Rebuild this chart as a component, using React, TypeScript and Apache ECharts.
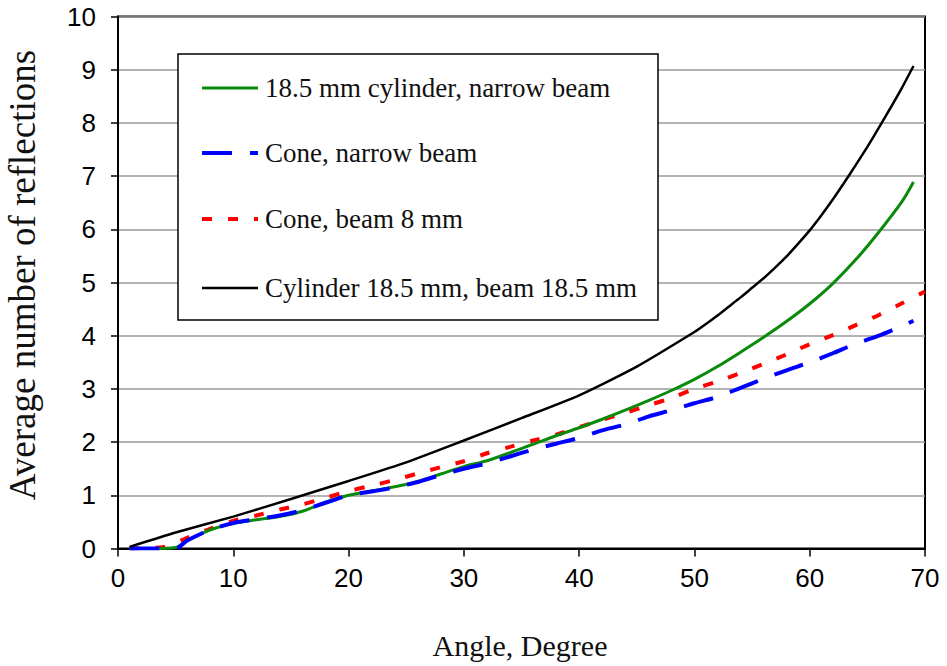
import React, { useEffect, useRef } from "react";
import * as echarts from "echarts";

const xTicks = [0, 10, 20, 30, 40, 50, 60, 70];
const yTicks = [0, 1, 2, 3, 4, 5, 6, 7, 8, 9, 10];

const seriesNames = [
  "18.5 mm cylinder, narrow beam",
  "Cone, narrow beam",
  "Cone, beam 8 mm",
  "Cylinder 18.5 mm, beam 18.5 mm",
];
const seriesColors = ["#0a8a0a", "#0000ff", "#ff0000", "#000000"];

const greenAngles = [1, 3, 5, 6, 8, 10, 12, 14, 16, 18, 20, 22, 24, 26, 28, 30, 32, 34, 36, 38, 40, 42, 44, 46, 48, 50, 52, 54, 56, 58, 60, 62, 64, 66, 68, 69];
const greenValues = [0, 0, 0.02, 0.15, 0.35, 0.47, 0.54, 0.6, 0.7, 0.87, 1.0, 1.08, 1.16, 1.26, 1.4, 1.54, 1.65, 1.8, 1.96, 2.12, 2.27, 2.43, 2.6, 2.78, 2.97, 3.18, 3.42, 3.69, 3.97, 4.27, 4.6, 4.98, 5.43, 5.95, 6.52, 6.89];

const blueAngles = [1, 3, 5, 6, 8, 10, 12, 14, 16, 18, 20, 22, 24, 26, 28, 30, 32, 34, 36, 38, 40, 42, 44, 46, 48, 50, 52, 54, 56, 58, 60, 62, 64, 66, 68, 69];
const blueValues = [0, 0, 0, 0.15, 0.35, 0.48, 0.55, 0.62, 0.72, 0.86, 1.0, 1.07, 1.15, 1.25, 1.38, 1.5, 1.6, 1.73, 1.86, 1.97, 2.08, 2.22, 2.33, 2.48, 2.6, 2.73, 2.85, 3.02, 3.19, 3.35, 3.5, 3.67, 3.85, 4.0, 4.18, 4.28];

const redAngles = [1, 3, 4, 6, 8, 10, 12, 14, 16, 18, 20, 22, 24, 26, 28, 30, 32, 34, 36, 38, 40, 42, 44, 46, 48, 50, 52, 54, 56, 58, 60, 62, 64, 66, 68, 70];
const redValues = [0, 0.01, 0.03, 0.2, 0.37, 0.52, 0.62, 0.73, 0.83, 0.95, 1.08, 1.18, 1.29, 1.41, 1.53, 1.64, 1.79, 1.91, 2.03, 2.14, 2.28, 2.42, 2.55, 2.69, 2.83, 3.0, 3.14, 3.3, 3.47, 3.65, 3.84, 4.01, 4.2, 4.39, 4.61, 4.83];

const blackAngles = [1, 5, 10, 15, 20, 25, 30, 35, 40, 45, 50, 51, 52, 53, 54, 55, 56, 57, 58, 59, 60, 61, 62, 63, 64, 65, 66, 67, 68, 69];
const blackValues = [0.03, 0.3, 0.6, 0.93, 1.27, 1.62, 2.03, 2.45, 2.88, 3.42, 4.07, 4.22, 4.38, 4.55, 4.72, 4.9, 5.08, 5.28, 5.49, 5.73, 5.98, 6.26, 6.56, 6.88, 7.21, 7.55, 7.91, 8.28, 8.66, 9.07];

const pairs = (xs: number[], ys: number[]) => xs.map((x, i) => [x, ys[i]]);

export default function App() {
  const ref = useRef<HTMLDivElement>(null);
  useEffect(() => {
    if (!ref.current) return;
    const chart = echarts.init(ref.current, null, { renderer: "svg" });
    const serif = "'Liberation Serif', 'Times New Roman', serif";
    const sans = "'Liberation Sans', Arial, sans-serif";

    const legendTop = [88, 153, 219, 288];
    const legendDash: any[] = [null, [30, 18], [10, 16], null];
    const legendWidth = [3, 4, 4, 2.5];
    const legendItems: any[] = [];
    seriesNames.forEach((name, i) => {
      legendItems.push({
        type: "line",
        shape: { x1: 202, y1: legendTop[i], x2: 258, y2: legendTop[i] },
        style: { stroke: seriesColors[i], lineWidth: legendWidth[i], lineDash: legendDash[i] },
        z: 101,
      });
      legendItems.push({
        type: "text",
        x: 265,
        y: legendTop[i],
        style: {
          text: name,
          fill: "#111",
          font: `27px ${serif}`,
          textAlign: "left",
          textVerticalAlign: "middle",
        },
        z: 101,
      });
    });

    chart.setOption({
      animation: false,
      backgroundColor: "#ffffff",
      grid: {
        left: 118,
        right: 22,
        top: 16.5,
        bottom: 117.5,
        show: true,
        borderColor: "#000",
        borderWidth: 2,
        containLabel: false,
      },
      xAxis: {
        type: "value",
        min: xTicks[0],
        max: xTicks[xTicks.length - 1],
        interval: 10,
        axisLine: { show: true, lineStyle: { color: "#000", width: 2 } },
        axisTick: { show: true, length: 8, lineStyle: { color: "#000", width: 1.5 } },
        axisLabel: { fontFamily: sans, fontSize: 26, color: "#000", margin: 16 },
        splitLine: { show: false },
      },
      yAxis: {
        type: "value",
        min: yTicks[0],
        max: yTicks[yTicks.length - 1],
        interval: 1,
        axisLine: { show: true, lineStyle: { color: "#000", width: 2 } },
        axisTick: { show: true, length: 7, lineStyle: { color: "#000", width: 1.5 } },
        axisLabel: { fontFamily: sans, fontSize: 26, color: "#000", margin: 22 },
        splitLine: { show: true, lineStyle: { color: "#9a9a9a", width: 1.5 } },
      },
      graphic: [
        {
          type: "text",
          x: 520,
          y: 645,
          style: {
            text: "Angle, Degree",
            fill: "#111",
            font: `30px ${serif}`,
            textAlign: "center",
            textVerticalAlign: "middle",
          },
        },
        {
          type: "text",
          x: 22,
          y: 275,
          rotation: Math.PI / 2,
          style: {
            text: "Average number of reflections",
            fill: "#111",
            font: `37px ${serif}`,
            textAlign: "center",
            textVerticalAlign: "middle",
          },
        },
        {
          type: "group",
          z: 100,
          children: [
            {
              type: "rect",
              shape: { x: 178, y: 54, width: 480, height: 266 },
              style: { fill: "#fff", stroke: "#000", lineWidth: 1.5 },
              z: 100,
            },
            ...legendItems,
          ],
        },
      ],
      series: [
        {
          name: seriesNames[0],
          type: "line",
          data: pairs(greenAngles, greenValues),
          symbol: "none",
          smooth: 0.3,
          lineStyle: { color: seriesColors[0], width: 3, type: "solid" },
          itemStyle: { color: seriesColors[0] },
          z: 3,
        },
        {
          name: seriesNames[1],
          type: "line",
          data: pairs(blueAngles, blueValues),
          symbol: "none",
          smooth: 0.3,
          lineStyle: { color: seriesColors[1], width: 4, type: [30, 18] },
          itemStyle: { color: seriesColors[1] },
          z: 4,
        },
        {
          name: seriesNames[2],
          type: "line",
          data: pairs(redAngles, redValues),
          symbol: "none",
          smooth: 0.3,
          lineStyle: { color: seriesColors[2], width: 4, type: [10, 16] },
          itemStyle: { color: seriesColors[2] },
          z: 2,
        },
        {
          name: seriesNames[3],
          type: "line",
          data: pairs(blackAngles, blackValues),
          symbol: "none",
          smooth: 0.2,
          lineStyle: { color: seriesColors[3], width: 2.5, type: "solid" },
          itemStyle: { color: seriesColors[3] },
          z: 5,
        },
      ],
    });
    return () => chart.dispose();
  }, []);
  return <div ref={ref} style={{ width: 947, height: 666, position: "absolute", left: 0, top: 0 }} />;
}
